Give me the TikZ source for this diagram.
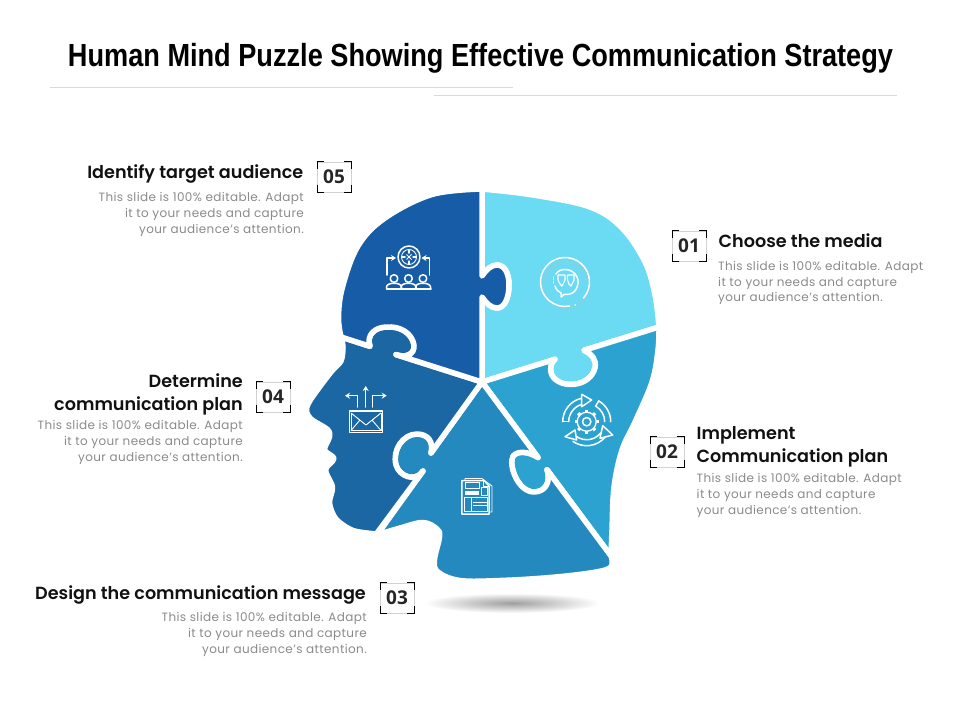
\documentclass[tikz,border=0pt]{standalone}
\usepackage{fontspec}
\usepackage{graphicx}
\usetikzlibrary{arrows.meta}
\setmainfont[LetterSpace=3.2]{Poppins}
\newfontfamily\headf{Poppins SemiBold}
\newfontfamily\titlef{Liberation Sans}
\newfontfamily\numf{Open Sans}
\definecolor{cA}{HTML}{6BDAF3}
\definecolor{cB}{HTML}{2BA2D0}
\definecolor{cC}{HTML}{2389BE}
\definecolor{cD}{HTML}{1B67A4}
\definecolor{cE}{HTML}{175CA6}
\definecolor{bodygray}{HTML}{8A8A8A}
\definecolor{headk}{HTML}{111111}
\tikzset{
 piece/.style={draw=white,line width=5.5pt,line join=round},
 icon/.style={draw=white,line width=1.5pt,line cap=round,line join=round},
 iconthin/.style={draw=white,line width=.9pt,line join=round},
 arr/.style={-{Stealth[length=5pt,width=6pt]}},
 head/.style={font=\fontsize{17.6}{23}\selectfont\headf,text=headk,inner sep=0pt},
 bodyt/.style={font=\fontsize{12}{15.8}\selectfont,text=bodygray,inner sep=0pt},
 numnode/.style={font=\fontsize{19}{19}\selectfont\numf\bfseries,text=black!85,draw=black!18,line width=.5pt,minimum width=33.5pt,minimum height=30pt,inner sep=0pt},
 rulel/.style={draw=black!15,line width=.7pt}
}
\newcommand{\numbox}[4]{%
 \node[numnode] (#1) at (#2,#3) {#4};
 \draw[black,line width=1pt] ([xshift=7pt]#1.north west) -- (#1.north west) -- ([yshift=-7pt]#1.north west);
 \draw[black,line width=1pt] ([xshift=-7pt]#1.north east) -- (#1.north east) -- ([yshift=-7pt]#1.north east);
 \draw[black,line width=1pt] ([xshift=7pt]#1.south west) -- (#1.south west) -- ([yshift=7pt]#1.south west);
 \draw[black,line width=1pt] ([xshift=-7pt]#1.south east) -- (#1.south east) -- ([yshift=7pt]#1.south east);
}
\begin{document}
\begin{tikzpicture}[x=1pt,y=-1pt]
\useasboundingbox (0,0) rectangle (960,720);
% title
\node[inner sep=0pt,anchor=base] (title) at (480.5,66) {\resizebox{825pt}{\height}{\fontsize{32}{32}\selectfont\titlef\bfseries Human Mind Puzzle Showing Effective Communication Strategy}};
\draw[rulel] (50,87) -- (513,87);
\draw[rulel] (434,95) -- (897,95);
% shadow
\shade[inner color=black!38,outer color=white] (512,603) ellipse [x radius=88,y radius=10];
% pieces
\coordinate (C) at (482,382);
% 01
\path[piece,fill=cA] (C) -- (482,297) .. controls (486,303) and (491,308) .. (497,308) .. controls (505,308) and (509,297) .. (509,285) .. controls (509,274) and (505,265) .. (497,265) .. controls (491,265) and (486,270) .. (482,276) -- (482,189)
 -- plot[smooth,tension=.6] coordinates {(482,189) (533,195) (590,207) (622,228) (645,262) (655,295) (659,327)}
 -- (584,350.3) .. controls (592,354) and (597,360) .. (595,368) .. controls (590,386) and (566,388) .. (556,380) .. controls (549,375) and (549,364) .. (555,359.3) -- cycle;
% 02
\path[piece,fill=cB] (C) -- (555,359.3) .. controls (549,364) and (549,375) .. (556,380) .. controls (566,388) and (590,386) .. (595,368) .. controls (597,360) and (592,354) .. (584,350.3) -- (659,327)
 -- plot[smooth,tension=.6] coordinates {(659,327) (658,350) (652,382) (635,422) (622,450) (614,487) (612,530) (611,556)}
 -- (547,469.7) .. controls (551,481) and (546,492) .. (534,492) .. controls (518,492) and (508,465) .. (513,456) .. controls (518,450) and (530,452) .. (538,457.5) -- cycle;
% 03
\path[piece,fill=cC] (C) -- (538,457.5) .. controls (530,452) and (518,450) .. (513,456) .. controls (508,465) and (518,492) .. (534,492) .. controls (546,492) and (551,481) .. (547,469.7) -- (611,556)
 -- plot[smooth,tension=.6] coordinates {(611,556) (611,567) (593,572.5) (550,577.5) (500,580.5) (460,580.5) (438,572) (434.5,560) (439.5,537) (437,529) (423,522.5) (400,528) (377,535)}
 -- (423,471) .. controls (415,483) and (399,476) .. (396,465) .. controls (392,450) and (403,434) .. (417,434) .. controls (428,434) and (434,442) .. (431,453) -- cycle;
% 04
\path[piece,fill=cD] (C) -- (431,453) .. controls (434,442) and (428,434) .. (417,434) .. controls (403,434) and (392,450) .. (396,465) .. controls (399,476) and (415,483) .. (423,471) -- (377,533)
 -- plot[smooth,tension=.5] coordinates {(377,534) (353,530.5) (336,519) (329.5,503) (332.5,487) (325.5,470) (334,458.5) (324.5,450) (329.5,437) (327.5,429.5) (311,419) (306.5,410) (311,399) (331,372) (341,361) (343,347) (341,337)}
 -- (370,346.3) .. controls (366,335) and (375,327) .. (387,327) .. controls (400,326) and (412,333) .. (414,345) .. controls (415,355) and (405,358) .. (396,354.6) -- cycle;
% 05
\path[piece,fill=cE] (C) -- (396,354.6) .. controls (405,358) and (415,355) .. (414,345) .. controls (412,333) and (400,326) .. (387,327) .. controls (375,327) and (366,335) .. (370,346.3) -- (341,337)
 -- plot[smooth,tension=.6] coordinates {(341,337) (338.5,317) (342.5,287) (358,246) (385,218) (432,194.5) (482,189)}
 -- (482,276) .. controls (486,270) and (491,265) .. (497,265) .. controls (505,265) and (509,274) .. (509,285) .. controls (509,297) and (505,308) .. (497,308) .. controls (491,308) and (486,303) .. (482,297) -- cycle;
% icon 05: target and people
\draw[icon] (409,257) circle (11);
\draw[iconthin] (409,257) circle (7.5);
\draw[icon] (409,250) -- (409,253) (409,261) -- (409,264) (402,257) -- (405,257) (413,257) -- (416,257);
\draw[iconthin] (406.5,254.5) -- (411.5,259.5) (411.5,254.5) -- (406.5,259.5);
\draw[icon,arr] (387,275) -- (387,258) -- (396,258);
\draw[icon,arr] (429.5,275) -- (429.5,258) -- (421.5,258);
\foreach \px in {394,408.5,423}{
 \draw[icon] (\px,278.5) circle (3.8);
 \draw[icon] (\px-7.5,288.5) -- (\px-7.5,287) .. controls (\px-7.5,282) and (\px+7.5,282) .. (\px+7.5,287) -- (\px+7.5,288.5);
}
\draw[icon] (386.5,288.8) -- (431,288.8);
% icon 01: speech bubble
\draw[black!25,line width=3pt,opacity=.2] (566,285) circle (23);
\draw[icon] (565,282) ++(41:24.5) arc[start angle=41,end angle=-281,radius=24.5];
\draw[icon] (575,305) -- (575.4,304.8);
\draw[icon] (564,294.5) .. controls (577,296) and (580,283) .. (577,277) .. controls (573,268) and (560,267) .. (556,274);
\draw[icon,dash pattern=on 2pt off 2.5pt] (553.5,277) -- (553.5,283);
\draw[icon] (555,286) .. controls (556,290) and (559,292) .. (561,293) -- (561,297) -- (564,294.5);
\draw[iconthin,line width=1.1pt] (558,275) -- (565,275) -- (565,280) -- (562,286) -- (560,284) -- (558,280) -- cycle;
\draw[iconthin,line width=1.1pt] (567.5,275) -- (574,275) -- (574,280) -- (571,286) -- (569,284) -- (567.5,280) -- cycle;
% icon 02: gear and arrows
\foreach \a in {0,45,...,315}{\draw[draw=white,line width=3.2pt] (586.7,421.7) ++(\a:9) -- ++(\a:3);}
\draw[draw=white,fill=cB,line width=1.3pt] (586.7,421.7) circle (9.5);
\draw[icon] (586.7,421.7) circle (4.2);
\foreach \sa/\ea in {-180/-105,-60/0,40/125}{
 \draw[icon] (586.7,421.7) ++(\sa:24) arc[start angle=\sa,end angle=\ea,radius=24];
 \draw[icon] (586.7,421.7) ++(\sa:18) arc[start angle=\sa,end angle=\ea,radius=18];
 \draw[icon] (586.7,421.7) ++(\sa:24) -- ++(\sa:-6);
}
\draw[icon,fill=cB] (581.7,394.3) -- (591.7,400) -- (581.7,406.7) -- cycle;
\draw[icon,fill=cB] (602.7,425.7) -- (612.7,435) -- (600,438.3) -- cycle;
\draw[icon,fill=cB] (565,436.7) -- (575,430) -- (576.7,440) -- cycle;
% icon 03: document
\draw[icon,line width=.9pt] (465,480) -- (465,478.5) -- (482,478.5) -- (492,486) -- (492,512) -- (489,512);
\draw[icon] (461.8,480.5) -- (484,480.5) -- (489,486) -- (489,514) -- (461.8,514) -- cycle;
\draw[iconthin] (483,480.5) -- (483,486.5) -- (489,486.5);
\draw[iconthin] (465,482) rectangle (479,488.5);
\fill[white] (464.5,490.5) rectangle (479,495);
\draw[iconthin] (481,487) rectangle (487,495);
\draw[iconthin] (464.5,497.5) rectangle (487,511);
\draw[iconthin] (471,497.5) -- (471,511);
\draw[iconthin] (473,502) -- (487,502) (473,505.5) -- (487,505.5);
% icon 04: envelope and arrows
\draw[icon,arr] (365.7,407) -- (365.7,386);
\draw[icon,arr] (357.3,407) -- (357.3,395.7) -- (345,395.7);
\draw[icon,arr] (372.3,407) -- (372.3,395.7) -- (386.7,395.7);
\draw[icon,line width=1.1pt] (349.3,411) rectangle (382.7,432.3);
\draw[iconthin] (351,413) -- (366,425) -- (381,413);
\draw[iconthin] (351,430.5) -- (360,420) (381,430.5) -- (372,420);
\draw[iconthin] (351,413) -- (351,430.5) -- (381,430.5) -- (381,413);
% number boxes
\numbox{n5}{334}{177}{05}
\numbox{n1}{689}{246}{01}
\numbox{n4}{273}{397}{04}
\numbox{n2}{667}{452}{02}
\numbox{n3}{397}{598}{03}
% labels
\node[head,anchor=base east] (h5) at (303.5,178) {Identify target audience};
\node[bodyt,anchor=north east,align=right] (b5) at (304,192.5) {This slide is 100\% editable. Adapt\\it to your needs and capture\\your audience's attention.};
\node[head,anchor=base west] (h1) at (718.5,247) {Choose the media};
\node[bodyt,anchor=north west,align=left] (b1) at (718,261) {This slide is 100\% editable. Adapt\\it to your needs and capture\\your audience's attention.};
\node[head,anchor=north east,align=right] (h4) at (243,373.5) {Determine\\communication plan};
\node[bodyt,anchor=north east,align=right] (b4) at (243,420.5) {This slide is 100\% editable. Adapt\\it to your needs and capture\\your audience's attention.};
\node[head,anchor=north west,align=left] (h2) at (696.5,426) {Implement\\Communication plan};
\node[bodyt,anchor=north west,align=left] (b2) at (696.5,473.5) {This slide is 100\% editable. Adapt\\it to your needs and capture\\your audience's attention.};
\node[head,anchor=base east] (h3) at (366,599) {Design the communication message};
\node[bodyt,anchor=north east,align=right] (b3) at (367,612.5) {This slide is 100\% editable. Adapt\\it to your needs and capture\\your audience's attention.};
\end{tikzpicture}
\end{document}
